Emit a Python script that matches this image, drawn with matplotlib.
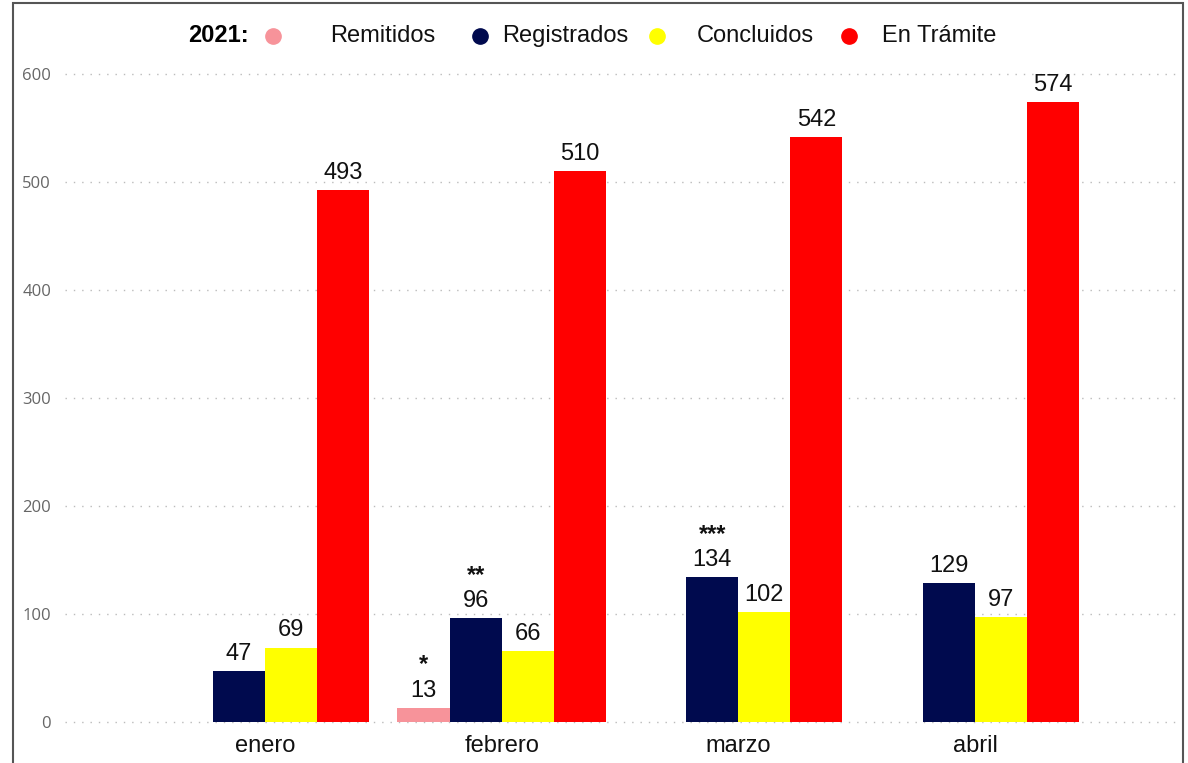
"""Expedientes 2021: remitidos, registrados, concluidos y en trámite por mes."""
import matplotlib.pyplot as plt
import numpy as np
from matplotlib.patches import Rectangle

months = ["enero", "febrero", "marzo", "abril"]
series = ["Remitidos", "Registrados", "Concluidos", "En Trámite"]
remitidos = [0, 13, 0, 0]
registrados = [47, 96, 134, 129]
concluidos = [69, 66, 102, 97]
en_tramite = [493, 510, 542, 574]
# footnote marks over some labels
marks = {("Remitidos", 1): "*", ("Registrados", 1): "**", ("Registrados", 2): "***"}
yticks = [0, 100, 200, 300, 400, 500, 600]

colors = ["#F7939A", "#000A4E", "#FFFF00", "#FF0000"]
values = [remitidos, registrados, concluidos, en_tramite]

plt.rcParams["font.family"] = ["Liberation Sans", "DejaVu Sans"]
FS = 17

fig = plt.figure(figsize=(11.88, 7.63), dpi=100)
ax = fig.add_axes([0.0547, 0.0537, 0.9343, 0.849])

x = np.arange(len(months))
width = 0.22
for i, (name, vals, col) in enumerate(zip(series, values, colors)):
    pos = x + (i - 1.5) * width
    ax.bar(pos, vals, width=width, color=col, zorder=3)
    for j, v in enumerate(vals):
        if v == 0:
            continue
        ax.annotate(str(v), (pos[j], v), xytext=(0, 8), textcoords="offset points",
                    ha="center", va="baseline", fontsize=FS, color="#111111")
        mark = marks.get((name, j))
        if mark:
            ax.annotate(mark, (pos[j], v), xytext=(0, 26.5), textcoords="offset points",
                        ha="center", va="baseline", fontsize=FS, fontweight="bold",
                        color="#111111")

ax.set_xlim(-0.845, 3.845)
ax.set_ylim(0, 600)
ax.set_yticks(yticks)
ax.set_xticks(x)
ax.set_xticklabels(months, fontsize=FS, color="#111111")
ax.tick_params(axis="x", length=0, pad=9)
ax.tick_params(axis="y", length=0, pad=10, labelsize=12, labelcolor="#666666")
for lab in ax.get_yticklabels():
    lab.set_family(["Open Sans", "DejaVu Sans"])
ax.grid(axis="y", linestyle=(0, (1, 5)), color="#BBBBBB", linewidth=1.0, zorder=0)
for line in ax.get_ygridlines():
    line.set_clip_on(False)
for s in ax.spines.values():
    s.set_visible(False)

# legend row at the top
W, H = 1188, 763
def fx(px):
    return px / W
def fy(py):
    return 1 - py / H

ly = 36
fig.text(fx(188), fy(ly), "2021:", fontsize=FS, fontweight="bold", va="center", ha="left")
dots = [273, 480, 657, 849]
labels_x = [330, 502, 697, 882]
for col, dx, lx, name in zip(colors, dots, labels_x, series):
    fig.add_artist(plt.Line2D([fx(dx)], [fy(ly)], marker="o", markersize=11,
                              color=col, linestyle="none"))
    fig.text(fx(lx), fy(ly), name, fontsize=FS, va="center", ha="left", color="#111111")

# outer frame
fig.add_artist(Rectangle((fx(13), -0.05), fx(1183 - 13), fy(3) + 0.05,
                         transform=fig.transFigure, fill=False, edgecolor="#555555",
                         linewidth=1.5))

fig.savefig("out.png", dpi=100, facecolor="white")
